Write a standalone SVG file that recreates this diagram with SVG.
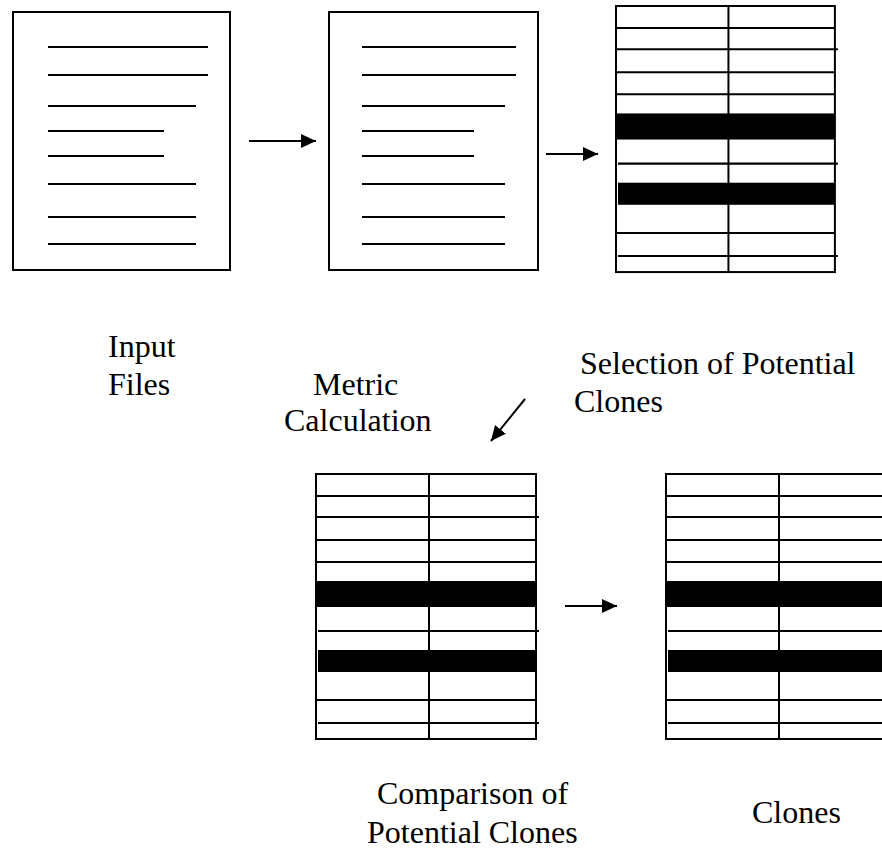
<svg xmlns="http://www.w3.org/2000/svg" width="882" height="852" viewBox="0 0 882 852">
<style>
.frame{fill:#fff;stroke:#000;stroke-width:2}
.ln{stroke:#000;stroke-width:2;fill:none}
.band{fill:#000}
.lbl{font-family:"Liberation Serif","Times New Roman",serif;font-size:32px;fill:#000}
.conn{stroke:#000;stroke-width:2;fill:none}
</style>
<defs>
<marker id="ah" markerUnits="userSpaceOnUse" markerWidth="16" markerHeight="16" refX="15" refY="7" orient="auto">
<path d="M0,0 L15,7 L0,14 Z" fill="#000"/>
</marker>
<g id="tbl">
<rect class="frame" x="0" y="0" width="220" height="265"/>
<line class="ln" x1="113" y1="0" x2="113" y2="265"/>
<line class="ln" x1="0" y1="22" x2="220" y2="22"/>
<line class="ln" x1="0" y1="43" x2="223" y2="43"/>
<line class="ln" x1="0" y1="66" x2="220" y2="66"/>
<line class="ln" x1="0" y1="88" x2="220" y2="88"/>
<rect class="band" x="0" y="107" width="220" height="26"/>
<line class="ln" x1="2" y1="157" x2="223" y2="157"/>
<rect class="band" x="2" y="176" width="218" height="22"/>
<line class="ln" x1="0" y1="226" x2="220" y2="226"/>
<line class="ln" x1="2" y1="249" x2="223" y2="249"/>
</g>
</defs>
<g id="input-files">
<rect class="frame" x="13" y="12" width="217" height="258"/>
<line class="ln" x1="48" y1="47" x2="208" y2="47"/>
<line class="ln" x1="48" y1="75" x2="208" y2="75"/>
<line class="ln" x1="48" y1="106" x2="196" y2="106"/>
<line class="ln" x1="48" y1="131" x2="164" y2="131"/>
<line class="ln" x1="48" y1="156" x2="164" y2="156"/>
<line class="ln" x1="48" y1="184" x2="196" y2="184"/>
<line class="ln" x1="48" y1="217" x2="196" y2="217"/>
<line class="ln" x1="48" y1="244" x2="196" y2="244"/>
<text class="lbl" x="108" y="357">Input</text>
<text class="lbl" x="108" y="395">Files</text>
</g>
<g id="metric-calculation">
<rect class="frame" x="329" y="12" width="209" height="258"/>
<line class="ln" x1="362" y1="47" x2="516" y2="47"/>
<line class="ln" x1="362" y1="75" x2="516" y2="75"/>
<line class="ln" x1="362" y1="106" x2="505" y2="106"/>
<line class="ln" x1="362" y1="131" x2="474" y2="131"/>
<line class="ln" x1="362" y1="156" x2="474" y2="156"/>
<line class="ln" x1="362" y1="184" x2="505" y2="184"/>
<line class="ln" x1="362" y1="217" x2="505" y2="217"/>
<line class="ln" x1="362" y1="244" x2="505" y2="244"/>
<text class="lbl" x="313" y="395">Metric</text>
<text class="lbl" x="284" y="431">Calculation</text>
</g>
<g id="selection">
<use href="#tbl" transform="translate(616,6) scale(0.995,1.004)"/>
<text class="lbl" x="580" y="374">Selection of Potential</text>
<text class="lbl" x="574" y="412">Clones</text>
</g>
<g id="comparison">
<use href="#tbl" transform="translate(316,474)"/>
<text class="lbl" x="377" y="804">Comparison of</text>
<text class="lbl" x="367" y="843">Potential Clones</text>
</g>
<g id="clones">
<use href="#tbl" transform="translate(666,474)"/>
<text class="lbl" x="752" y="823">Clones</text>
</g>
<g id="connectors">
<line class="conn" x1="249" y1="141" x2="316" y2="141" marker-end="url(#ah)"/>
<line class="conn" x1="546" y1="154" x2="598" y2="154" marker-end="url(#ah)"/>
<line class="conn" x1="525" y1="399" x2="491" y2="441" marker-end="url(#ah)"/>
<line class="conn" x1="565" y1="606" x2="617" y2="606" marker-end="url(#ah)"/>
</g>
</svg>
